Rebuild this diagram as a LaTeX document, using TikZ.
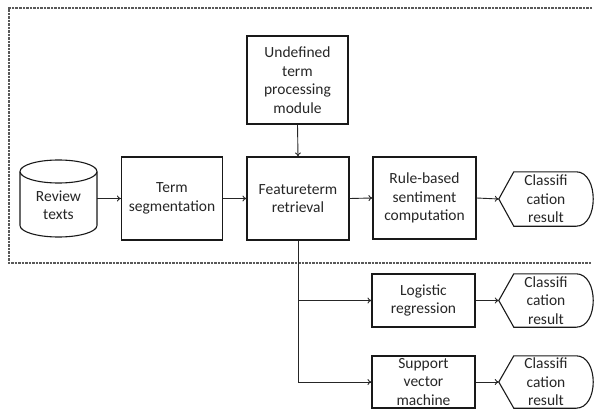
\documentclass[tikz,border=0pt]{standalone}
\usepackage{fontspec}
\setmainfont{Carlito}
\usetikzlibrary{arrows.meta}
\newcommand\dispbox[1]{%
  \draw[shp] (#1.west) -- ([xshift=15pt]#1.north west) -- ([xshift=-17pt]#1.north east)
    .. controls ([xshift=5.7pt]#1.north east) and ([xshift=5.7pt]#1.south east) .. ([xshift=-17pt]#1.south east)
    -- ([xshift=15pt]#1.south west) -- cycle;}
\begin{document}
\begin{tikzpicture}[x=1pt,y=-1pt,
  txt/.style={align=center, font=\fontsize{15.5}{18.5}\selectfont, text=black!85, inner sep=0pt},
  box/.style={txt, draw=black!90, line width=1.1pt},
  shp/.style={draw=black!90, line width=1.1pt},
  conn/.style={draw=black!85, line width=0.9pt, -{To[length=4pt,width=6pt]}},
  frame/.style={draw=black!65, line width=1.1pt, dash pattern=on 2.5pt off 1pt}]
\useasboundingbox (0,0) rectangle (595,412);
% dashed frame
\draw[frame] (592,8) -- (9,8) -- (9,263) -- (592,263);
% cylinder
\draw[shp] (20,171.5) -- (20,225.5) arc[start angle=180,end angle=360,x radius=38.5pt,y radius=11.5pt] -- (97,171.5);
\draw[shp] (58.5,171.5) ellipse [x radius=38.5pt, y radius=11.5pt];
\node[txt, minimum width=77pt] (rev) at (58.5,205) {Review\\texts};
% boxes
\node[box, minimum width=101pt, minimum height=83pt] (seg) at (172,198.5) {Term\\segmentation};
\node[box, minimum width=101pt, minimum height=88pt] (und) at (297.5,80) {Undefined\\term\\processing\\module};
\node[box, minimum width=102pt, minimum height=83pt] (feat) at (298,198.5) {Featureterm\\retrieval};
\node[box, minimum width=103pt, minimum height=82pt] (rule) at (424.5,198) {Rule-based\\sentiment\\computation};
\node[box, minimum width=103pt, minimum height=53pt] (lr) at (423.5,300.5) {Logistic\\regression};
\node[box, minimum width=103pt, minimum height=52pt] (svm) at (423.5,382) {Support\\vector\\machine};
% classification results
\node[txt, minimum width=94pt, minimum height=54pt] (c1) at (546,199) {Classifi\\cation\\result};
\node[txt, minimum width=94pt, minimum height=53pt] (c2) at (546,300.5) {Classifi\\cation\\result};
\node[txt, minimum width=94pt, minimum height=52pt] (c3) at (546,382) {Classifi\\cation\\result};
\dispbox{c1}
\dispbox{c2}
\dispbox{c3}
% connectors
\draw[conn] (rev.east |- seg.west) -- (seg.west);
\draw[conn] (seg.east) -- (feat.west);
\draw[conn] (und.south) -- (feat.north);
\draw[conn] (feat.east) -- (rule.west);
\draw[conn] (rule.east) -- (c1.west);
\draw[conn] (feat.south) |- (svm.west);
\draw[conn] (feat.south |- lr.west) -- (lr.west);
\draw[conn] (lr.east) -- (c2.west);
\draw[conn] (svm.east) -- (c3.west);
\end{tikzpicture}
\end{document}
